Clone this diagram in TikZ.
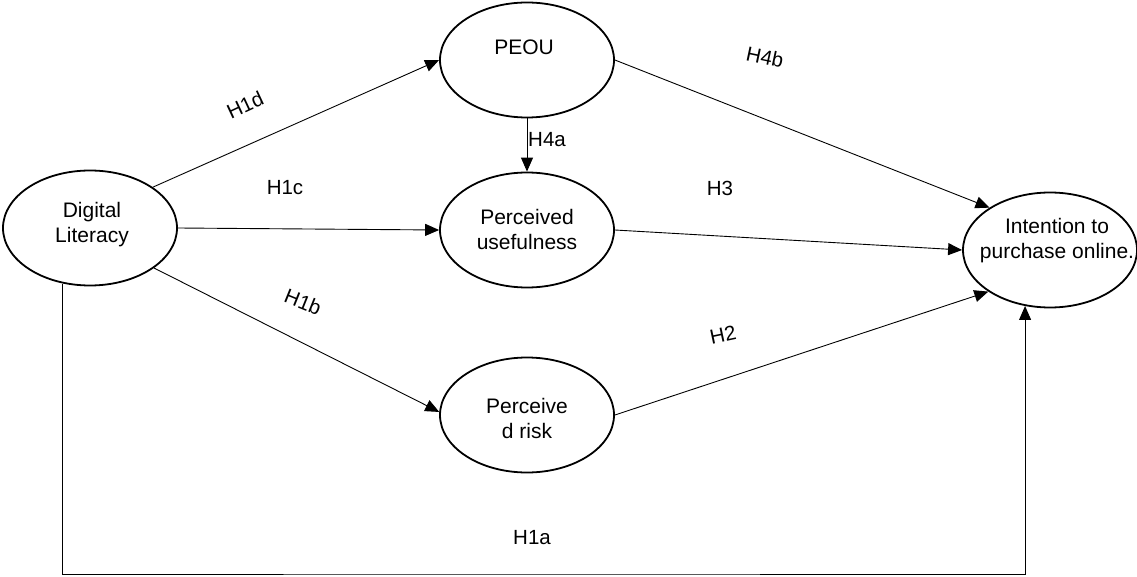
\documentclass[tikz,border=0pt]{standalone}
\usepackage{fontspec}
\setmainfont{Liberation Sans}
\usetikzlibrary{shapes.geometric,arrows.meta}
\tikzset{
  oval/.style={draw, line width=1.8pt, ellipse, minimum width=174pt, minimum height=115pt, inner sep=0pt},
  txt/.style={align=center, inner sep=0pt, font=\fontsize{21}{25}\selectfont},
  lbl/.style={inner sep=0pt, font=\fontsize{20.5}{24}\selectfont},
  conn/.style={line width=0.9pt, -{Triangle[length=14pt,width=12pt]}}
}
\begin{document}
\begin{tikzpicture}[x=1pt,y=-1pt]
\useasboundingbox (0,0) rectangle (1137,577);
% ellipses
\node[oval] (dl) at (90,228) {};
\node[oval] (peou) at (527,60) {};
\node[oval] (pu) at (527,230) {};
\node[oval] (pr) at (527,415) {};
\node[oval] (int) at (1050,250) {};
% texts
\node[txt] (dlt) at (92,225) {Digital\\Literacy};
\node[txt] (peout) at (524,47) {PEOU};
\node[txt] (put) at (527,229) {Perceived\\usefulness};
\node[txt] (prt) at (527,418) {Perceive\\d risk};
\node[txt] (intt) at (1057,241) {Intention to\\purchase online.};
% connectors
\coordinate (bottom) at (500,574);
\draw[conn] (dl.33) -- (peou.west);
\draw[conn] (dl.east) -- (pu.west);
\draw[conn] (dl.-32) -- (pr.178);
\draw[conn] (peou.south) -- (pu.north);
\draw[conn] (peou.east) -- (int.145);
\draw[conn] (pu.east) -- (int.west);
\draw[conn] (pr.east) -- (int.214);
\draw[conn] (dl.244) |- (bottom) -| (int.246);
% labels
\node[lbl, rotate=25] (h1d) at (245,105) {H1d};
\node[lbl] (h1c) at (285,188) {H1c};
\node[lbl, rotate=-22] (h1b) at (303,302) {H1b};
\node[lbl] (h4a) at (547,140) {H4a};
\node[lbl, rotate=-12] (h4b) at (765,57) {H4b};
\node[lbl] (h3) at (720,188) {H3};
\node[lbl, rotate=12] (h2) at (723,335) {H2};
\node[lbl] (h1a) at (532,538) {H1a};
\end{tikzpicture}
\end{document}
